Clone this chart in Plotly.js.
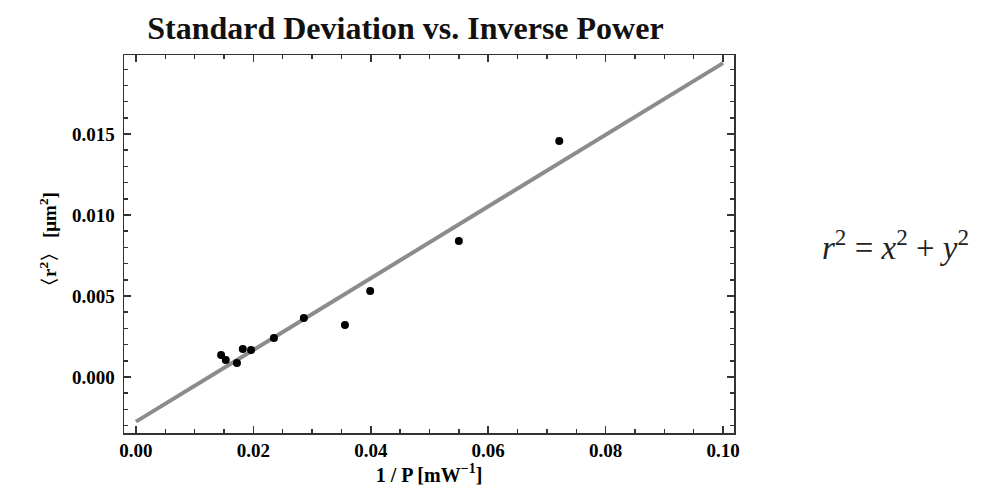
<!DOCTYPE html>
<html>
<head>
<meta charset="utf-8">
<script src="https://cdn.plot.ly/plotly-3.0.1.min.js"></script>
<style>html,body{margin:0;padding:0;background:#fff;}#chart{width:1001px;height:503px;}</style>
</head>
<body>
<div id="chart"></div>
<script>
// Measured data: inverse power (1/P, mW^-1) vs mean squared displacement <r^2> (um^2)
var invPower = [0.0145, 0.0153, 0.0172, 0.0182, 0.0196, 0.0235, 0.0286, 0.0356, 0.0399, 0.0550, 0.0721];
var meanR2   = [0.00136, 0.00105, 0.00086, 0.00173, 0.00167, 0.00241, 0.00364, 0.00321, 0.00531, 0.00840, 0.01457];
// Linear fit
var fitX = [0, 0.1];
var fitIntercept = -0.00276;
var fitSlope = 0.2214;
var fitY = fitX.map(function(x){ return fitIntercept + fitSlope * x; });

var xTickVals = [0, 0.02, 0.04, 0.06, 0.08, 0.10];
var xTickText = ['0.00', '0.02', '0.04', '0.06', '0.08', '0.10'];
var yTickVals = [0, 0.005, 0.010, 0.015];
var yTickText = ['0.000', '0.005', '0.010', '0.015'];

var font = 'Liberation Serif, Times New Roman, serif';

var traces = [
  {x: fitX, y: fitY, mode: 'lines', type: 'scatter',
   line: {color: '#8c8c8c', width: 4}, hoverinfo: 'skip'},
  {x: invPower, y: meanR2, mode: 'markers', type: 'scatter',
   marker: {color: '#000', size: 8}}
];

var axisCommon = {
  showgrid: false, zeroline: false, showline: true, linecolor: '#333', linewidth: 1.5,
  mirror: 'ticks', ticks: 'inside', ticklen: 7, tickwidth: 1.5, tickcolor: '#333',
  tickfont: {family: font, size: 19, color: '#000', weight: 'bold'}
};

var layout = {
  width: 1001, height: 503,
  margin: {l: 124, r: 267, t: 55, b: 70},
  paper_bgcolor: '#fff', plot_bgcolor: '#fff',
  showlegend: false,
  title: {text: '<b>Standard Deviation vs. Inverse Power</b>', font: {family: font, size: 32, color: '#111'},
          xref: 'container', x: 0.405, xanchor: 'center', yref: 'container', y: 0.945, yanchor: 'middle'},
  xaxis: Object.assign({}, axisCommon, {
    range: [-0.00204, 0.10187], tickvals: xTickVals, ticktext: xTickText,
    minor: {dtick: 0.005, tick0: 0, ticks: 'inside', ticklen: 4, tickwidth: 1.5, tickcolor: '#333'},
    title: {text: '<b>1 / P [mW<sup>−1</sup>]</b>', font: {family: font, size: 20, color: '#000'}, standoff: 4}
  }),
  yaxis: Object.assign({}, axisCommon, {
    range: [-0.00346, 0.01988], tickvals: yTickVals, ticktext: yTickText,
    ticklabelstandoff: 4,
    minor: {dtick: 0.001, tick0: 0, ticks: 'inside', ticklen: 4, tickwidth: 1.5, tickcolor: '#333'},
    title: {text: '<b>〈r<sup>2</sup>〉 [μm<sup>2</sup>]</b>', font: {family: font, size: 19, color: '#000'}, standoff: 10}
  }),
  annotations: [
    {xref: 'paper', yref: 'paper', x: 1.141, y: 0.497, xanchor: 'left', yanchor: 'middle', showarrow: false,
     text: '<i>r</i><sup>2</sup> = <i>x</i><sup>2</sup> + <i>y</i><sup>2</sup>',
     font: {family: font, size: 33, color: '#222'}}
  ]
};

Plotly.newPlot('chart', traces, layout, {displayModeBar: false, staticPlot: true});
</script>
</body>
</html>
